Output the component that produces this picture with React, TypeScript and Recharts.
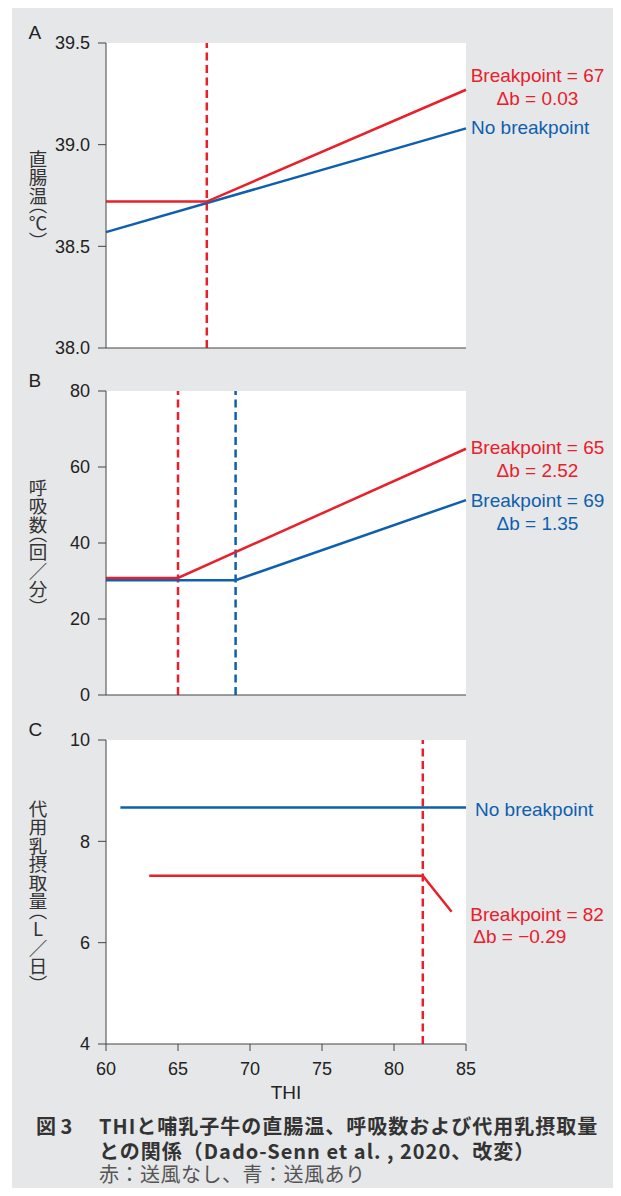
import {
  CartesianGrid,
  Line,
  LineChart,
  ReferenceDot,
  ReferenceLine,
  XAxis,
  YAxis,
} from "recharts";

const RED = "#e8202b";
const BLUE = "#0e5fae";
const AXIS = "#444";
const FONT = "'Liberation Sans', Arial, sans-serif";
const JP = "'Noto Sans CJK JP', sans-serif";

// THI (x axis)
const thiTicks = [60, 65, 70, 75, 80, 85];

// A: 直腸温 (℃)
const tempTicks = [38.0, 38.5, 39.0, 39.5];
const tempNoFan = [
  { thi: 60, v: 38.72 },
  { thi: 67, v: 38.72 },
  { thi: 85, v: 39.27 },
];
const tempFan = [
  { thi: 60, v: 38.57 },
  { thi: 85, v: 39.08 },
];

// B: 呼吸数 (回/分)
const respTicks = [0, 20, 40, 60, 80];
const respNoFan = [
  { thi: 60, v: 30.8 },
  { thi: 65, v: 30.8 },
  { thi: 85, v: 64.8 },
];
const respFan = [
  { thi: 60, v: 30.2 },
  { thi: 69, v: 30.2 },
  { thi: 85, v: 51.3 },
];

// C: 代用乳摂取量 (L/日)
const milkTicks = [4, 6, 8, 10];
const milkNoFan = [
  { thi: 63, v: 7.32 },
  { thi: 82, v: 7.32 },
  { thi: 84, v: 6.61 },
];
const milkFan = [
  { thi: 61, v: 8.67 },
  { thi: 85, v: 8.67 },
];

type NoteLine = { text: string; dx: number; dy: number; anchor?: "start" | "middle" };

function note(color: string, lines: NoteLine[]) {
  return (props: any) => {
    const vb = props.viewBox || {};
    const cx = vb.x + (vb.width || 0) / 2;
    const cy = vb.y + (vb.height || 0) / 2;
    return (
      <g>
        {lines.map((l, i) => (
          <text
            key={i}
            x={cx + l.dx}
            y={cy + l.dy}
            fill={color}
            fontSize={19}
            fontFamily={FONT}
            textAnchor={l.anchor ?? "start"}
          >
            {l.text}
          </text>
        ))}
      </g>
    );
  };
}

function yTitle(letter: string, title: string) {
  return (props: any) => {
    const vb = props.viewBox || {};
    return (
      <g>
        <text x={28.5} y={vb.y - 4} fontSize={19} fontFamily={FONT} fill="#222">
          {letter}
        </text>
        <text
          x={38}
          y={vb.y + vb.height / 2}
          fontSize={18.5}
          fontFamily={JP}
          fill="#333"
          textAnchor="middle"
          style={{
            writingMode: "vertical-rl",
            textOrientation: "upright",
            fontFeatureSettings: '"vpal"',
          }}
        >
          {title}
        </text>
      </g>
    );
  };
}

const tick = { fill: "#222", fontSize: 18, fontFamily: FONT };

function yAxis(domain: number[], ticks: number[], letter: string, title: string, digits = 0) {
  return (
    <YAxis
      type="number"
      domain={domain}
      ticks={ticks}
      tickFormatter={(v: number) => v.toFixed(digits)}
      width={106}
      tickSize={8}
      tickMargin={8}
      tick={tick}
      axisLine={{ stroke: AXIS }}
      tickLine={{ stroke: AXIS }}
      label={yTitle(letter, title)}
      allowDataOverflow
    />
  );
}

const lineProps = {
  dataKey: "v",
  strokeWidth: 2.5,
  dot: false,
  activeDot: false,
  isAnimationActive: false,
} as const;

const dash = { strokeDasharray: "8 4.5", strokeWidth: 2.5 };

const caption = {
  position: "absolute",
  fontFamily: JP,
  fontSize: 20,
  lineHeight: "20px",
  whiteSpace: "nowrap",
} as const;

export default function App() {
  const last = <T,>(a: T[]) => a[a.length - 1] as any;
  return (
    <div style={{ position: "relative", width: 621, height: 1196, margin: -8, background: "#fff" }}>
      <div style={{ position: "absolute", left: 12, top: 8, right: 0, bottom: 0, background: "#e6e7e9" }} />

      {/* A */}
      <div style={{ position: "absolute", left: 0, top: 0 }}>
        <LineChart width={621} height={360} margin={{ top: 43, right: 155, bottom: 0, left: 0 }}>
          <CartesianGrid horizontal={false} vertical={false} fill="#fff" />
          <XAxis type="number" dataKey="thi" domain={[60, 85]} ticks={thiTicks} tick={false} tickLine={false} height={12} axisLine={{ stroke: AXIS }} />
          {yAxis([38, 39.5], tempTicks, "A", "直腸温（℃）", 1)}
          <ReferenceLine x={tempNoFan[1].thi} stroke={RED} {...dash} />
          <Line data={tempFan} stroke={BLUE} {...lineProps} />
          <Line data={tempNoFan} stroke={RED} {...lineProps} />
          <ReferenceDot
            x={last(tempNoFan).thi}
            y={last(tempNoFan).v}
            r={0}
            fill="none"
            stroke="none"
            ifOverflow="visible"
            label={note(RED, [
              { text: "Breakpoint = 67", dx: 71.5, dy: -7.5, anchor: "middle" },
              { text: "Δb = 0.03", dx: 71.5, dy: 15.2, anchor: "middle" },
            ])}
          />
          <ReferenceDot
            x={last(tempFan).thi}
            y={last(tempFan).v}
            r={0}
            fill="none"
            stroke="none"
            ifOverflow="visible"
            label={note(BLUE, [{ text: "No breakpoint", dx: 5, dy: 5.5 }])}
          />
        </LineChart>
      </div>

      {/* B */}
      <div style={{ position: "absolute", left: 0, top: 360 }}>
        <LineChart width={621} height={360} margin={{ top: 31, right: 155, bottom: 13, left: 0 }}>
          <CartesianGrid horizontal={false} vertical={false} fill="#fff" />
          <XAxis type="number" dataKey="thi" domain={[60, 85]} ticks={thiTicks} tick={false} tickLine={false} height={12} axisLine={{ stroke: AXIS }} />
          {yAxis([0, 80], respTicks, "B", "呼吸数（回／分）")}
          <ReferenceLine x={respNoFan[1].thi} stroke={RED} {...dash} />
          <ReferenceLine x={respFan[1].thi} stroke={BLUE} {...dash} />
          <Line data={respFan} stroke={BLUE} {...lineProps} />
          <Line data={respNoFan} stroke={RED} {...lineProps} />
          <ReferenceDot
            x={last(respNoFan).thi}
            y={last(respNoFan).v}
            r={0}
            fill="none"
            stroke="none"
            ifOverflow="visible"
            label={note(RED, [
              { text: "Breakpoint = 65", dx: 71.5, dy: 5.5, anchor: "middle" },
              { text: "Δb = 2.52", dx: 71.5, dy: 28.5, anchor: "middle" },
            ])}
          />
          <ReferenceDot
            x={last(respFan).thi}
            y={last(respFan).v}
            r={0}
            fill="none"
            stroke="none"
            ifOverflow="visible"
            label={note(BLUE, [
              { text: "Breakpoint = 69", dx: 71.5, dy: 6.5, anchor: "middle" },
              { text: "Δb = 1.35", dx: 71.5, dy: 29.8, anchor: "middle" },
            ])}
          />
        </LineChart>
      </div>

      {/* C */}
      <div style={{ position: "absolute", left: 0, top: 720 }}>
        <LineChart width={621} height={400} margin={{ top: 20, right: 155, bottom: 46, left: 0 }}>
          <CartesianGrid horizontal={false} vertical={false} fill="#fff" />
          <XAxis
            type="number"
            dataKey="thi"
            domain={[60, 85]}
            ticks={thiTicks}
            height={30}
            tickSize={7}
            tickMargin={11}
            tick={tick}
            axisLine={{ stroke: AXIS }}
            tickLine={{ stroke: AXIS }}
            label={{ value: "THI", position: "bottom", offset: 12, fill: "#222", fontSize: 19, fontFamily: FONT }}
          />
          {yAxis([4, 10], milkTicks, "C", "代用乳摂取量（L／日）")}
          <ReferenceLine x={milkNoFan[1].thi} stroke={RED} {...dash} />
          <Line data={milkFan} stroke={BLUE} {...lineProps} />
          <Line data={milkNoFan} stroke={RED} {...lineProps} />
          <ReferenceDot
            x={last(milkFan).thi}
            y={last(milkFan).v}
            r={0}
            fill="none"
            stroke="none"
            ifOverflow="visible"
            label={note(BLUE, [{ text: "No breakpoint", dx: 9, dy: 8.2 }])}
          />
          <ReferenceDot
            x={last(milkNoFan).thi}
            y={last(milkNoFan).v}
            r={0}
            fill="none"
            stroke="none"
            ifOverflow="visible"
            label={note(RED, [
              { text: "Breakpoint = 82", dx: 18.7, dy: 9.5 },
              { text: "Δb = −0.29", dx: 21.7, dy: 31.5 },
            ])}
          />
        </LineChart>
      </div>

      {/* caption */}
      <div style={{ ...caption, left: 36, top: 1115.5, fontWeight: 700, color: "#333" }}>図 3</div>
      <div style={{ ...caption, left: 99, top: 1115.5, fontWeight: 700, color: "#333", letterSpacing: 1 }}>
        THIと哺乳子牛の直腸温、呼吸数および代用乳摂取量
      </div>
      <div style={{ ...caption, left: 99, top: 1140.5, fontWeight: 700, color: "#333", letterSpacing: 1 }}>
        との関係（Dado-Senn et al. , 2020、改変）
      </div>
      <div style={{ ...caption, left: 99, top: 1163.5, fontWeight: 400, color: "#555", letterSpacing: 0.5 }}>
        赤：送風なし、青：送風あり
      </div>
    </div>
  );
}
